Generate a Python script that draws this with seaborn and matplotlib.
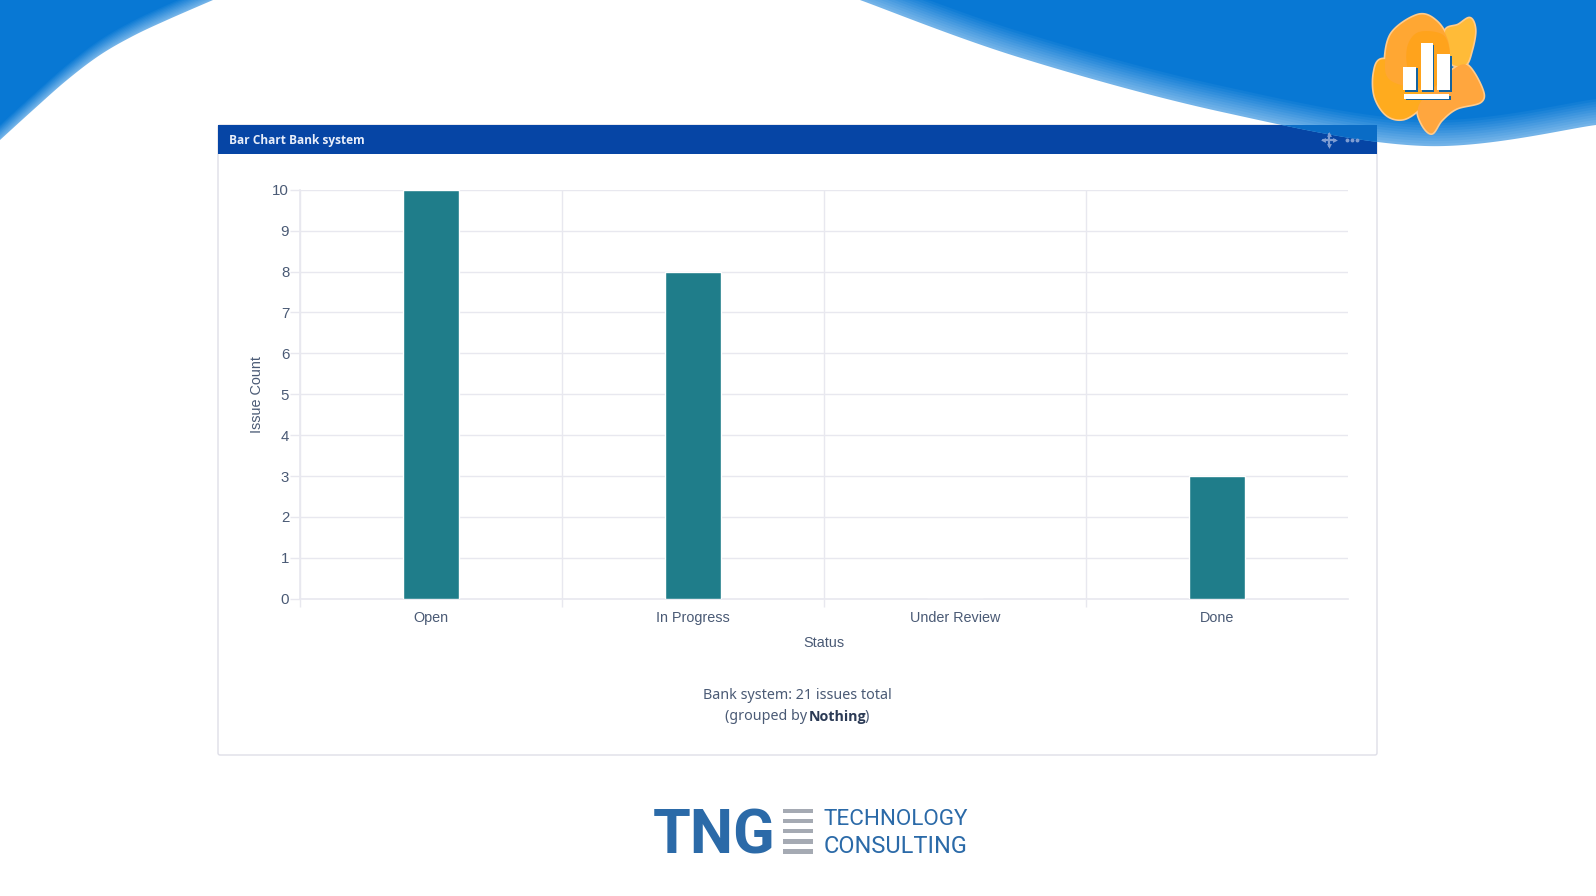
import numpy as np
import pandas as pd
import matplotlib
matplotlib.use('Agg')
import seaborn as sns
import matplotlib.pyplot as plt
from matplotlib.patches import Polygon, Rectangle, FancyBboxPatch

statuses = ['Open', 'In Progress', 'Under Review', 'Done']
issue_counts = [10, 8, 0, 3]
y_ticks = [0, 1, 2, 3, 4, 5, 6, 7, 8, 9, 10]

W, H = 1596, 896
BAR = '#1f7d8a'
TEXT = '#4a5a75'
GRID = '#e8e8ef'
BLUE = '#2b6aa8'
SWOOSH = np.array([0.03, 0.47, 0.83])
EDGE = np.array([0.45, 0.70, 0.91])


def smooth(pts, closed=False, n=16):
    # catmull-rom through the hand picked outline points
    p = np.array(pts, dtype=float)
    if closed:
        p = np.vstack([p[-1], p, p[0], p[1]])
    else:
        p = np.vstack([p[0], p, p[-1]])
    out = []
    t = np.linspace(0, 1, n, endpoint=False)[:, None]
    for i in range(1, len(p) - 2):
        a, b, c, d = p[i - 1], p[i], p[i + 1], p[i + 2]
        out.append(0.5 * (2 * b + (c - a) * t + (2 * a - 5 * b + 4 * c - d) * t**2 + (3 * b - a - 3 * c + d) * t**3))
    out = np.vstack(out)
    if not closed:
        out = np.vstack([out, p[-2]])
    return out


def zoomed(pts):
    return [(1200 + x / 3, y / 3) for x, y in pts]


sns.set_theme(style='white')
plt.rcParams['font.family'] = ['Liberation Sans', 'DejaVu Sans']

fig = plt.figure(figsize=(W / 100, H / 100), dpi=100, facecolor='white')
bg = fig.add_axes([0, 0, 1, 1], zorder=0)
bg.set_xlim(0, W)
bg.set_ylim(H, 0)
bg.axis('off')

# panel and header
bg.add_patch(FancyBboxPatch((218, 125), 1159, 630, boxstyle='round,pad=0,rounding_size=2',
                            fc='white', ec='#dedee8', lw=1, zorder=1))
header = Rectangle((218, 125), 1159, 29, fc='#0645a5', ec='none', zorder=2)
bg.add_patch(header)

# background swooshes, with a soft lighter rim
left_edge = smooth([(0, 140), (33, 110), (67, 80), (100, 55), (133, 36), (167, 20), (213, 0)])
right_edge = smooth([(860, 0), (1018, 57), (1222, 112), (1425, 146), (1596, 125)], n=40)
for k in range(11):
    col = EDGE + (SWOOSH - EDGE) * (k / 10)
    up = right_edge.copy()
    up[:, 1] = np.maximum(up[:, 1] - k * 2.6, 0)
    bg.add_patch(Polygon(np.vstack([up, [W, 0], [860, 0]]), fc=col, ec='none', zorder=3))
    lf = left_edge.copy()
    lf[:, 1] = np.maximum(lf[:, 1] - k * 1.5, 0)
    bg.add_patch(Polygon(np.vstack([lf, [0, 0]]), fc=col, ec='none', zorder=3))
# inside the header the swoosh shows without the rim
inside = Polygon(np.vstack([right_edge, [W, 0], [860, 0]]), fc='#0a6cc6', ec='none', zorder=4)
bg.add_patch(inside)
inside.set_clip_path(header)

# header text and icons
bg.text(229, 140.5, 'Bar Chart Bank system', color='#e8eefa', fontsize=8.6, fontweight='bold',
        family=['Open Sans', 'DejaVu Sans'], va='center', zorder=5)
bg.plot([1347, 1352, 1357], [140, 140, 140], ls='none', marker='o', ms=1.8, color='#7f9dd2', zorder=5)
bg.plot([1323, 1335], [140, 140], color='#7f9dd2', lw=1.6, zorder=5)
bg.plot([1329, 1329], [134, 146], color='#7f9dd2', lw=1.6, zorder=5)
for x, y, m in [(1323, 140, '<'), (1335, 140, '>'), (1329, 134, '^'), (1329, 146, 'v')]:
    bg.plot([x], [y], marker=m, ms=3.5, color='#7f9dd2', mew=0, zorder=5)

# orange logo, four overlapping lobes
lobes = [
    ('#ffbb38', [(735, 95), (775, 75), (810, 55), (825, 90), (815, 150), (795, 195), (750, 185)]),
    ('#ffab1e', [(545, 178), (522, 220), (525, 290), (560, 345), (610, 357), (660, 325), (690, 280), (620, 200)]),
    ('#ffa63e', [(800, 195), (845, 265), (842, 305), (770, 325), (725, 360), (695, 400), (665, 370),
                 (655, 320), (700, 260), (750, 215)]),
    ('#ffa733', [(655, 45), (710, 65), (745, 125), (745, 200), (700, 280), (640, 265), (570, 240), (555, 190),
                 (575, 100)]),
]
# light rim first, the fills then hide it everywhere but on the outside
for col, pts in lobes:
    bg.add_patch(Polygon(smooth(zoomed(pts), closed=True), fc=col, ec='#ffcb8c', lw=2.4, zorder=6))
for col, pts in lobes:
    bg.add_patch(Polygon(smooth(zoomed(pts), closed=True), fc=col, ec='none', zorder=6))
inner = smooth(zoomed([(660, 95), (730, 105), (750, 165), (740, 215), (690, 270), (640, 250), (620, 190), (625, 130)]),
               closed=True)
bg.add_patch(Polygon(inner, fc='#ffa31c', ec='none', zorder=6))
for x0, x1, y0, y1 in [(610, 648, 200, 270), (662, 698, 130, 270), (712, 750, 162, 270), (612, 748, 282, 296)]:
    rx0, ry0 = zoomed([(x0, y0)])[0]
    rx1, ry1 = zoomed([(x1, y1)])[0]
    bg.add_patch(Rectangle((rx0 + 1.7, ry0 + 1.7), rx1 - rx0, ry1 - ry0, fc='#14639f', ec='none', zorder=7))
    bg.add_patch(Rectangle((rx0, ry0), rx1 - rx0, ry1 - ry0, fc='white', ec='none', zorder=8))

# caption
cap_font = ['Noto Sans', 'DejaVu Sans']
bg.text(797.5, 695.5, 'Bank system: 21 issues total', color=TEXT, fontsize=10.3, family=cap_font,
        ha='center', va='center', zorder=5)
bg.text(725, 716.5, '(grouped by ', color=TEXT, fontsize=10.3, family=cap_font, va='center', zorder=5)
bg.text(809, 716.5, 'Nothing', color='#2b3a55', fontsize=10.3, fontweight='bold', family=['Open Sans', 'DejaVu Sans'],
        va='center', zorder=5)
bg.text(865, 716.5, ')', color=TEXT, fontsize=10.3, family=cap_font, va='center', zorder=5)

# TNG logo
bg.text(653, 853, 'TNG', color=BLUE, fontsize=44, fontweight='bold', family=['Roboto', 'DejaVu Sans'],
        va='baseline', zorder=5)
for zy in [453, 483, 513, 544, 574]:
    bg.add_patch(Rectangle((783, 660 + zy / 3 - 2.2), 30, 4.4, fc='#a5aab3', ec='none', zorder=5))
bg.text(824, 825, 'TECHNOLOGY', color=BLUE, fontsize=16.2, family=['Roboto', 'DejaVu Sans'], va='baseline', zorder=5)
bg.text(824, 853, 'CONSULTING', color=BLUE, fontsize=16.9, family=['Roboto', 'DejaVu Sans'], va='baseline', zorder=5)

# the chart itself
ax = fig.add_axes([300.3 / W, 1 - 598.8 / H, (1348 - 300.3) / W, (598.8 - 189.8) / H], zorder=1)
ax.patch.set_alpha(0)
db = pd.DataFrame({'status': statuses, 'count': issue_counts})
sns.barplot(data=db, x='status', y='count', color=BAR, saturation=1, width=0.214, order=statuses, ax=ax, zorder=3)
ax.set_xlim(-0.5, len(statuses) - 0.5)
ax.set_ylim(0, 10)
ax.set_yticks(y_ticks)
ax.set_xticks(np.arange(-0.5, len(statuses) - 1), minor=True)
ax.grid(True, axis='y', color=GRID, lw=1, zorder=0)
ax.grid(True, axis='x', which='minor', color=GRID, lw=1, zorder=0)
ax.set_axisbelow(True)
ax.tick_params(axis='x', which='major', length=0, pad=9, labelsize=10.4, labelcolor=TEXT)
ax.tick_params(axis='x', which='minor', length=6, color=GRID, width=1, bottom=True)
ax.tick_params(axis='y', length=7, color=GRID, width=1, pad=1, labelsize=10.8, labelcolor=TEXT, left=True)
ax.set_xlabel('Status', fontsize=10.4, color=TEXT, labelpad=8)
ax.set_ylabel('Issue Count', fontsize=10.4, color=TEXT, labelpad=6)
for side in ['top', 'right']:
    ax.spines[side].set_visible(False)
for side in ['left', 'bottom']:
    ax.spines[side].set_color(GRID)
    ax.spines[side].set_linewidth(1.2)

fig.savefig('out.png', dpi=100)
